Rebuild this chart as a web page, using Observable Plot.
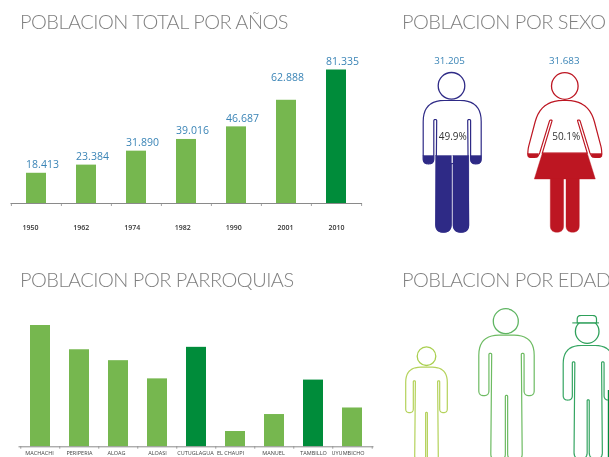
<!DOCTYPE html>
<html><head><meta charset="utf-8">
<script src="https://cdn.jsdelivr.net/npm/d3@7"></script>
<script src="https://cdn.jsdelivr.net/npm/@observablehq/plot@0.6"></script>
<style>
html,body{margin:0;padding:0;background:#fff;overflow:hidden}
#page{position:relative;width:609px;height:457px;overflow:hidden;filter:blur(.3px)}
#page>svg,#page>.t{position:absolute}
.t{font-family:Lato,"Open Sans",sans-serif;font-weight:300;font-size:20px;letter-spacing:-.52px;color:#7f7f7f;white-space:nowrap;line-height:24px}
</style></head><body><div id="page"></div>
<script>
const titles=["POBLACION TOTAL POR AÑOS","POBLACION POR SEXO","POBLACION POR PARROQUIAS","POBLACION POR EDAD"];
const years=["1950","1962","1974","1982","1990","2001","2010"];
const totals=[18413,23384,31890,39016,46687,62888,81335];
const totalHighlight=["2010"];
const parishes=["MACHACHI","PERIPERIA","ALOAG","ALOASI","CUTUGLAGUA","EL CHAUPI","MANUEL\nCORNEJO","TAMBILLO","UYUMBICHO"];
const parishHeights=[100,80,71,56,82,12.6,26.6,55,32];
const parishHighlight=["CUTUGLAGUA","TAMBILLO"];
const sexLabels=["31.205","31.683"];
const sexShares=["49.9%","50.1%"];

const page=document.getElementById("page");
const LIGHT="#76b74f",DARK="#008c3a",BLUE="#3a84b6",GREY="#8a8a8a",NAVY="#2e2a86",RED="#bd1622";
const place=(el,l,t)=>{el.style.left=l+"px";el.style.top=t+"px";page.appendChild(el)};
[[20,9],[402,9],[20,267],[402,267]].forEach(([l,t],i)=>{
  const d=document.createElement("div");d.className="t";d.textContent=titles[i];place(d,l,t);
});

function barPanel({cats,vals,highlight,marginTop,marginBottom,marginLeft,marginRight,padding,tickPadding,fontSize,fontWeight,fill,tick,labelShift,extra=[]}){
  const rows=cats.map((c,i)=>({c,v:vals[i]}));
  const half=(380-marginLeft-marginRight)/cats.length/2;
  return Plot.plot({width:380,height:457,marginTop,marginBottom,marginLeft,marginRight,
    style:{background:"transparent"},
    x:{domain:cats,paddingInner:padding,paddingOuter:padding/2,align:.5,label:null},
    y:{domain:[0,d3.max(vals)],axis:null},
    marks:[
      Plot.barY(rows,{x:"c",y:"v",fill:d=>highlight.includes(d.c)?DARK:LIGHT}),
      ...extra.map(f=>f(rows)),
      Plot.ruleY([0],{stroke:GREY,strokeWidth:1}),
      Plot.ruleX(cats,{x:d=>d,y1:0,y2:-tick,dx:-half,stroke:GREY,strokeWidth:.8}),
      Plot.ruleX(cats.slice(-1),{x:d=>d,y1:0,y2:-tick,dx:half,stroke:GREY,strokeWidth:.8}),
      ...cats.map((c,i)=>Plot.axisX({ticks:[c],dx:labelShift[i],tickSize:0,tickPadding,fontSize,fontWeight,lineHeight:1.25,fontFamily:"'Open Sans'",fill,label:null}))
    ]});
}
const fmt=v=>d3.format(",")(v).replace(",",".");
const valueText=(test,dx,dy)=>rows=>Plot.text(rows.filter(test),{x:"c",y:"v",text:d=>fmt(d.v),dx,dy,fill:BLUE,fontSize:10.5,fontFamily:"'Open Sans'"});
place(barPanel({cats:years,vals:totals,highlight:totalHighlight,marginTop:69.5,marginBottom:254,marginLeft:10.5,marginRight:18,
  padding:.6,tickPadding:20,fontSize:7,fontWeight:600,fill:"#333",tick:1830,labelShift:[-6,-5.3,-4.3,-3.8,-2.8,-1,0],
  extra:[valueText(d=>d.c!=="2001",6,-8.5),valueText(d=>d.c==="2001",1,-23)]}),0,0);
place(barPanel({cats:parishes,vals:parishHeights,highlight:parishHighlight,marginTop:325,marginBottom:10.7,marginLeft:18.5,marginRight:6.5,
  padding:.5,tickPadding:3,fontSize:5.5,fontWeight:400,fill:"#444",tick:2,labelShift:[-1,0,-2,0,-1,-5,-1,0,-4.5]}),0,0);

function rounded(pts){ // [x,y,r]
  const out=[],n=pts.length;
  pts.forEach((p,i)=>{
    const a=pts[(i-1+n)%n],b=pts[(i+1)%n],r=p[2]||0;
    if(!r){out.push({x:p[0],y:p[1]});return;}
    const v1=[a[0]-p[0],a[1]-p[1]],v2=[b[0]-p[0],b[1]-p[1]];
    const l1=Math.hypot(...v1),l2=Math.hypot(...v2);
    const u=[v1[0]/l1,v1[1]/l1],w=[v2[0]/l2,v2[1]/l2];
    const d=Math.min(r,l1/2,l2/2);
    for(let t=0;t<=1.0001;t+=.1){
      const s=1-t;
      out.push({x:s*s*(p[0]+u[0]*d)+2*s*t*p[0]+t*t*(p[0]+w[0]*d),
                y:s*s*(p[1]+u[1]*d)+2*s*t*p[1]+t*t*(p[1]+w[1]*d)});
    }
  });
  out.push(out[0]);
  return out;
}
const shape=(pts,o)=>Plot.line(rounded(pts),{x:"x",y:"y",curve:"linear",strokeLinejoin:"round",...o});
const mirror=(half)=>[...half,...half.slice().reverse().map(([x,y,r])=>[-x,y,r])];
const move=(pts,cx,top,s,sy=s)=>pts.map(([x,y,r])=>[cx+x*s,top+y*sy,(r||0)*s]);
const personHalf=[[29,0,21],[29,63.3,7],[18.4,63.3,7],[18.4,19,1.6],[15.5,19,1.6],[16.5,131.7,10],[1.2,131.7,10],[1.2,63,1.2]];
const person=(cx,top,s,stroke)=>shape(move(mirror(personHalf),cx,top,s),{stroke,strokeWidth:1.2,fill:"#fff"});
const head=(x,y,r,stroke)=>Plot.dot([{x,y}],{x:"x",y:"y",r,stroke,strokeWidth:1.3,fill:"#fff"});

const manCx=451.7,manTop=100,womanCx=564.3;
const womanHalf=[[24,0,22],[36.7,48,3],[37.2,57,7],[26.5,57,7],[15,19.5,1.4],[12.5,19.5,1.4],[22.5,52.7]];
const fig=[];
fig.push(person(manCx,manTop,1,NAVY),head(451,85.3,13.3,NAVY));
[[-16.5,-.8],[.8,16.5]].forEach(([a,b])=>fig.push(shape(move([[a,55],[b,55],[b,131.7,10],[a,131.7,10]],manCx,manTop,1),{fill:NAVY,stroke:NAVY,strokeWidth:.4})));
[[-29,-18.4],[18.4,29]].forEach(([a,b])=>fig.push(shape(move([[a,55],[b,55],[b,63.3,7],[a,63.3,7]],manCx,manTop,1),{fill:NAVY,stroke:NAVY,strokeWidth:.4})));
fig.push(shape(move(mirror(womanHalf),womanCx,100,1),{stroke:RED,strokeWidth:1.2,fill:"#fff"}),head(womanCx,85.5,13.3,RED));
fig.push(shape(move([[-22.5,52.7],[22.5,52.7],[30.5,78.5],[-30.5,78.5]],womanCx,100,1),{fill:RED,stroke:RED,strokeWidth:.4}));
[[-14.5,-1.2],[1.2,14.5]].forEach(([a,b])=>fig.push(shape(move([[a,78],[b,78],[b,131.7,9],[a,131.7,9]],womanCx,100,1),{fill:RED,stroke:RED,strokeWidth:.4})));
[[-37,-26.5],[26.5,37]].forEach(([a,b])=>fig.push(shape(move([[a,53],[b,53],[b,57,6],[a,57,6]],womanCx,100,1),{fill:RED,stroke:RED,strokeWidth:.4})));
fig.push(person(426,366.7,.717,"#b4d25a"),head(426,355.7,9.3,"#a9cf4f"));
fig.push(person(506,334.7,.955,"#6dbb62"),head(505.3,320.7,12.5,"#5fb562"));
fig.push(person(587.7,345,.862,"#35a562"),head(586.7,331,11.8,"#2ea05a"));
fig.push(Plot.ruleX([608.3],{x:d=>d,y1:390,y2:457,stroke:DARK,strokeWidth:2}));
const HAT="#2ea05a";
fig.push(shape([[576.7,322.5,0],[576.7,315,5],[596,315,5],[596,322.5,0]],{stroke:HAT,strokeWidth:1.2,fill:"#fff"}));
fig.push(Plot.ruleY([322.4],{x1:572.3,x2:599,y:d=>d,stroke:HAT,strokeWidth:1.1}));
fig.push(Plot.text(sexLabels,{x:(d,i)=>[449,563.7][i],y:60.7,text:d=>d,fill:BLUE,fontSize:9.8,fontFamily:"'Open Sans'"}));
fig.push(Plot.text(sexShares,{x:(d,i)=>[452.3,565.7][i],y:136.7,text:d=>d,fill:"#333",fontSize:10,fontFamily:"'Open Sans'"}));
place(Plot.plot({width:609,height:457,margin:0,style:{background:"transparent"},
  x:{domain:[0,609],axis:null},y:{domain:[457,0],axis:null},marks:fig}),0,0);
</script></body></html>
